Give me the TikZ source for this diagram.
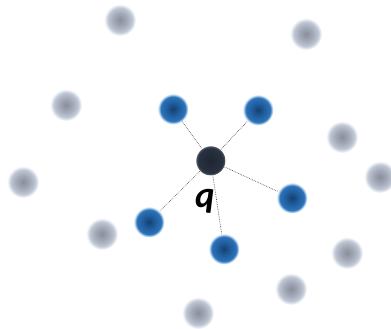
\documentclass[tikz,border=0pt]{standalone}
\usepackage{fontspec}
\setmainfont{Carlito}
\usetikzlibrary{backgrounds}
\definecolor{gA}{HTML}{888E9A}
\definecolor{gB}{HTML}{A4AAB8}
\definecolor{gC}{HTML}{BFC6D3}
\definecolor{gD}{HTML}{E3E8F0}
\definecolor{bA}{HTML}{173F6E}
\definecolor{bB}{HTML}{1F5D9C}
\definecolor{bC}{HTML}{2C72B8}
\definecolor{bD}{HTML}{A4C8EC}
\definecolor{cA}{HTML}{1F2633}
\definecolor{cB}{HTML}{29323F}
\definecolor{cC}{HTML}{4A5260}
\pgfdeclareradialshading{grayball}{\pgfpoint{0bp}{0bp}}{color(0bp)=(gA); color(11bp)=(gB); color(19bp)=(gC); color(22.5bp)=(gD); color(25bp)=(white); color(50bp)=(white)}
\pgfdeclareradialshading{blueball}{\pgfpoint{0bp}{0bp}}{color(0bp)=(bA); color(10bp)=(bB); color(20bp)=(bC); color(22.5bp)=(bD); color(25bp)=(white); color(50bp)=(white)}
\pgfdeclareradialshading{centerball}{\pgfpoint{0bp}{0bp}}{color(0bp)=(cA); color(21bp)=(cB); color(23.5bp)=(cC); color(25bp)=(white); color(50bp)=(white)}
\tikzset{
  grayn/.style={circle, minimum size=32pt, inner sep=0pt, shading=grayball},
  bluen/.style={circle, minimum size=31pt, inner sep=0pt, shading=blueball},
  qnode/.style={circle, minimum size=30pt, inner sep=0pt, shading=centerball},
  link/.style={densely dotted, draw=black!65, line width=0.7pt},
}
\begin{document}
\begin{tikzpicture}[x=1pt,y=-1pt]
\useasboundingbox (0,0) rectangle (391,329);
% gray background nodes
\node[grayn] (g1) at (120,20) {};
\node[grayn] (g2) at (306,34) {};
\node[grayn] (g3) at (66,105) {};
\node[grayn] (g4) at (342,137) {};
\node[grayn] (g5) at (23,182) {};
\node[grayn] (g6) at (380,177) {};
\node[grayn] (g7) at (102,234) {};
\node[grayn] (g8) at (347,253) {};
\node[grayn] (g9) at (291,289) {};
\node[grayn] (g10) at (198,313) {};
% center and neighbours
\node[bluen] (b1) at (173,109) {};
\node[bluen] (b2) at (258,110) {};
\node[bluen] (b3) at (292,198) {};
\node[bluen] (b4) at (224,249) {};
\node[bluen] (b5) at (149,222) {};
\node[qnode] (q) at (210.5,160.5) {};
\begin{scope}[on background layer]
\foreach \b in {b1,b2,b3,b4,b5} \draw[link] (q.center) -- (\b.center);
\end{scope}
\node[font=\fontsize{37}{37}\selectfont\bfseries\itshape, inner sep=0pt, anchor=base] (ql) at (205,207) {q};
\end{tikzpicture}
\end{document}
